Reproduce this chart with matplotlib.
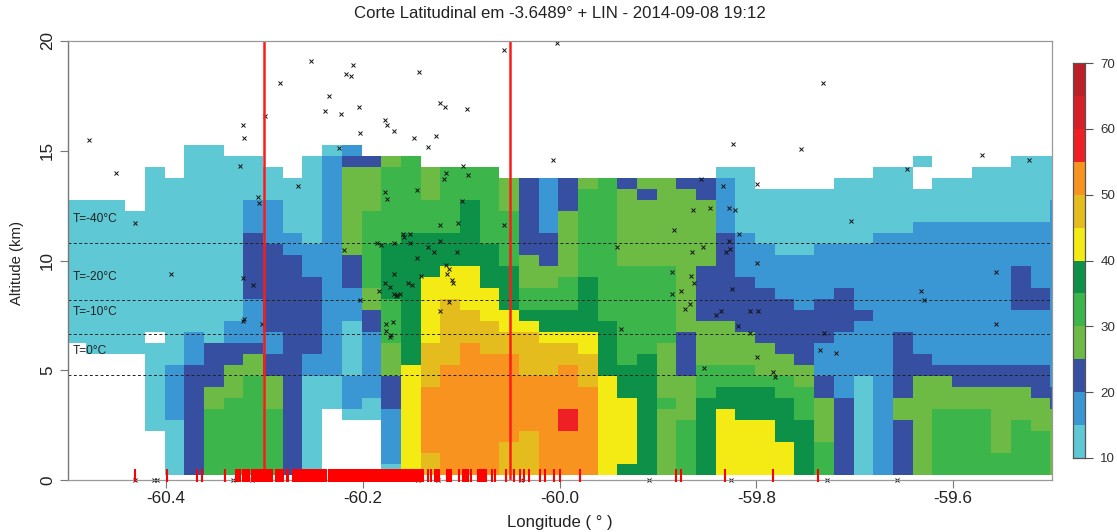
import numpy as np
import matplotlib
matplotlib.use('Agg')
import matplotlib.pyplot as plt
from matplotlib.colors import ListedColormap, BoundaryNorm

plt.rcParams['font.family'] = ['Liberation Sans', 'DejaVu Sans']

# reflectivity bins, one run list per longitude column, from 0.5 km upwards
# each pair is (lower edge of dBZ bin, number of 0.5 km levels), 0 = no echo
columns = [
    [(0,12),(10,13)],
    [(0,11),(10,14)],
    [(0,11),(10,14)],
    [(0,11),(10,13)],
    [(0,4),(10,8),(0,1),(10,15)],
    [(10,5),(15,5),(10,17)],
    [(20,10),(15,3),(10,17)],
    [(30,6),(25,2),(20,4),(10,18)],
    [(30,7),(25,3),(20,2),(15,2),(10,15)],
    [(30,9),(25,2),(20,1),(15,4),(20,6),(15,3),(10,4)],
    [(30,6),(25,3),(20,2),(15,2),(20,8),(15,4),(10,3)],
    [(20,20),(15,2),(10,5)],
    [(10,9),(15,2),(20,7),(15,3),(10,8)],
    [(0,6),(10,3),(15,20),(10,1)],
    [(0,5),(10,1),(15,3),(10,5),(15,3),(20,3),(25,8),(20,1),(15,1)],
    [(0,5),(10,2),(15,6),(20,2),(25,2),(30,7),(25,4),(20,1)],
    [(10,1),(15,5),(20,3),(25,3),(30,4),(35,5),(30,7),(25,1)],
    [(40,10),(35,12),(30,7)],
    [(45,2),(50,6),(45,4),(40,6),(35,4),(30,3),(25,3)],
    [(50,10),(45,6),(40,3),(35,3),(30,6)],
    [(50,12),(45,3),(40,4),(35,6),(30,3)],
    [(50,11),(45,3),(40,3),(35,4),(30,7)],
    [(45,3),(50,8),(45,2),(40,2),(35,4),(30,5),(25,3)],
    [(45,4),(50,5),(45,4),(40,1),(35,1),(30,2),(25,3),(20,7)],
    [(50,9),(45,3),(40,1),(35,2),(30,2),(25,2),(20,3),(15,5)],
    [(50,4),(55,2),(50,4),(45,2),(40,1),(35,2),(30,3),(25,6),(20,3)],
    [(50,8),(45,3),(40,2),(35,5),(30,8),(25,1)],
    [(40,9),(35,5),(30,13)],
    [(35,1),(40,6),(35,3),(30,9),(25,7),(20,1)],
    [(35,11),(30,8),(25,6),(20,1),(25,1)],
    [(25,6),(30,1),(25,5),(30,7),(25,8)],
    [(30,5),(25,4),(20,4),(25,13),(20,1)],
    [(35,7),(30,3),(25,4),(20,5),(25,6),(20,2)],
    [(40,6),(35,2),(30,2),(25,4),(20,8),(15,5),(10,1)],
    [(40,5),(35,3),(30,2),(25,3),(20,5),(15,4),(10,6)],
    [(40,5),(35,3),(30,1),(25,3),(20,5),(15,4),(10,5)],
    [(40,3),(35,4),(30,2),(25,2),(20,5),(15,4),(10,6)],
    [(35,5),(30,3),(25,2),(20,5),(15,5),(10,6)],
    [(30,3),(25,4),(20,2),(15,3),(20,4),(15,5),(10,5)],
    [(20,7),(15,6),(20,4),(15,4),(10,6)],
    [(10,9),(15,5),(20,1),(15,6),(10,6)],
    [(15,22),(10,6)],
    [(20,5),(25,2),(20,6),(15,9),(10,6)],
    [(25,9),(20,2),(15,12),(10,3),(0,2),(10,1)],
    [(30,6),(25,3),(20,1),(15,13),(10,4)],
    [(30,6),(25,2),(20,2),(15,13),(10,4)],
    [(30,6),(25,2),(20,2),(15,13),(10,5)],
    [(30,2),(25,6),(20,2),(15,13),(10,5)],
    [(30,5),(25,3),(20,2),(15,5),(20,4),(15,4),(10,6)],
    [(30,4),(25,3),(20,3),(15,5),(20,2),(15,6),(10,6)],
    [(25,6),(20,2),(15,17),(10,4)],
]

lon_first = -60.5013
lon_step = 0.02
alt_first = 0.25
alt_step = 0.5
n_levels = 30

palette = ['#5EC8D5', '#3A97D3', '#364FA1', '#6DBB45', '#3CB54A', '#0D9048',
           '#F5EB14', '#E5BC1E', '#F8931F', '#EF1F26', '#D52027', '#BC1F27']
bounds = [10, 15, 20, 25, 30, 35, 40, 45, 50, 55, 60, 65, 70]

# lightning sources above the section
flash_lon = [-60.478,-60.451,-60.432,-60.395,-60.325,-60.322,-60.321,-60.306,-60.305,-60.322,
             -60.312,-60.321,-60.322,-60.302,-60.299,-60.284,-60.266,-60.253,-60.238,-60.234,
             -60.222,-60.224,-60.217,-60.212,-60.210,-60.204,-60.203,-60.219,-60.203,-60.186,
             -60.181,-60.177,-60.175,-60.177,-60.175,-60.168,-60.168,-60.168,-60.177,-60.172,
             -60.184,-60.168,-60.165,-60.176,-60.169,-60.176,-60.172,-60.171,-60.159,-60.158,
             -60.152,-60.152,-60.145,-60.148,-60.143,-60.134,-60.126,-60.122,-60.116,-60.094,
             -60.098,-60.115,-60.093,-60.117,-60.099,-60.103,-60.122,-60.056,-60.122,-60.134,
             -60.128,-60.104,-60.145,-60.115,-60.112,-60.114,-60.141,-60.154,-60.150,-60.109,
             -60.108,-60.166,-60.162,-60.112,-60.122,-60.056,-60.003,-60.007,-59.938,-59.942,
             -59.884,-59.886,-59.886,-59.877,-59.866,-59.863,-59.865,-59.864,-59.856,-59.854,
             -59.847,-59.867,-59.873,-59.836,-59.841,-59.853,-59.834,-59.828,-59.822,-59.818,
             -59.828,-59.827,-59.831,-59.825,-59.824,-59.799,-59.799,-59.807,-59.798,-59.819,
             -59.807,-59.799,-59.783,-59.781,-59.755,-59.732,-59.731,-59.735,-59.719,-59.704,
             -59.647,-59.633,-59.630,-59.571,-59.556,-59.556,-59.523,
             -60.431,-60.412,-60.409,-60.332,-60.313,-60.144,-60.124,-60.039,-59.909,-59.826,
             -59.728,-59.657]
flash_alt = [15.49,13.99,11.70,9.40,14.31,16.19,15.60,12.89,12.61,9.19,
             8.90,7.34,7.24,7.09,16.60,18.09,13.39,19.09,16.80,17.50,
             16.69,15.11,18.50,18.39,18.89,16.99,15.80,10.49,8.20,10.80,
             10.69,13.11,12.80,16.39,16.19,15.90,10.80,9.40,8.99,8.79,
             8.60,8.49,8.43,7.09,7.20,6.80,6.52,6.61,11.19,11.08,
             11.19,10.80,13.20,15.60,18.59,15.19,15.69,17.19,16.99,16.89,
             14.31,13.99,13.90,13.70,12.70,11.70,11.60,11.60,10.89,10.60,
             10.40,10.40,10.10,9.80,9.60,9.40,9.29,8.99,8.90,9.10,
             8.99,8.40,8.49,8.10,7.70,19.59,19.90,14.59,6.89,10.60,
             11.39,9.49,8.49,8.60,9.29,8.99,10.40,12.30,13.70,10.60,
             12.41,8.00,7.79,7.70,7.50,5.10,13.39,12.39,12.30,11.19,
             10.89,10.51,10.40,8.69,15.29,13.50,9.89,7.70,7.70,7.00,
             6.70,5.60,4.91,4.71,15.09,18.09,6.70,5.91,5.80,11.80,
             14.18,8.60,8.20,14.79,9.49,7.09,14.59,
             0,0,0,0,0,0,0,0,0,0,
             0,0]

# ground strokes, rug along the bottom
stroke_lon = [-60.431,-60.399,-60.369,-60.363,-60.340,-60.329,-60.327,-60.325,-60.322,-60.320,
              -60.318,-60.316,-60.313,-60.312,-60.310,-60.308,-60.306,-60.304,-60.302,-60.300,
              -60.298,-60.296,-60.295,-60.293,-60.292,-60.288,-60.286,-60.284,-60.282,-60.281,
              -60.277,-60.276,-60.271,-60.269,-60.267,-60.265,-60.263,-60.261,-60.259,-60.257,
              -60.255,-60.253,-60.252,-60.250,-60.248,-60.246,-60.244,-60.242,-60.241,-60.239,
              -60.237,-60.234,-60.232,-60.231,-60.229,-60.228,-60.226,-60.225,-60.223,-60.222,
              -60.220,-60.219,-60.217,-60.216,-60.214,-60.213,-60.211,-60.210,-60.208,-60.207,
              -60.205,-60.204,-60.202,-60.201,-60.199,-60.198,-60.196,-60.195,-60.193,-60.192,
              -60.190,-60.189,-60.187,-60.186,-60.184,-60.183,-60.181,-60.180,-60.178,-60.177,
              -60.175,-60.174,-60.172,-60.171,-60.169,-60.168,-60.166,-60.165,-60.163,-60.161,
              -60.160,-60.158,-60.157,-60.155,-60.154,-60.152,-60.151,-60.149,-60.148,-60.146,
              -60.145,-60.143,-60.141,-60.139,-60.134,-60.131,-60.127,-60.125,-60.123,-60.114,
              -60.112,-60.110,-60.102,-60.098,-60.096,-60.094,-60.093,-60.090,-60.083,-60.081,
              -60.080,-60.078,-60.077,-60.075,-60.069,-60.066,-60.054,-60.046,-60.040,-60.036,
              -60.031,-60.020,-60.015,-60.006,-60.000,-59.979,-59.882,-59.877,-59.832,-59.783,
              -59.737]

section_lon = [-60.30, -60.05]

iso_alt = [4.8, 6.65, 8.2, 10.8]
iso_label = ['T=0°C', 'T=-10°C', 'T=-20°C', 'T=-40°C']
iso_label_alt = [5.88, 7.65, 9.25, 11.9]

xticks = [-60.4, -60.2, -60.0, -59.8, -59.6]
xticklabels = ['-60.4', '-60.2', '-60.0', '-59.8', '-59.6']
yticks = [0, 5, 10, 15, 20]
cbar_ticks = [10, 20, 30, 40, 50, 60, 70]

# build the grid, level by longitude
grid = np.full((n_levels, len(columns)), np.nan)
for j, runs in enumerate(columns):
    k = 0
    for low, count in runs:
        if low > 0:
            grid[k:k+count, j] = low + 2.5
        k += count

lon_edges = lon_first + lon_step*np.arange(len(columns)+1)
alt_edges = alt_first + alt_step*np.arange(n_levels+1)

W, H = 1117, 532
fig = plt.figure(figsize=(W/100, H/100), dpi=100)
ax = fig.add_axes([67.6/W, (H-480)/H, 984.0/W, 439.0/H])

cmap = ListedColormap(palette)
norm = BoundaryNorm(bounds, cmap.N)
ax.pcolormesh(lon_edges, alt_edges, grid, cmap=cmap, norm=norm, antialiased=False)

for a in iso_alt:
    ax.axhline(a, color='#222222', lw=0.7, ls=(0, (3, 2.5)))
for lab, a in zip(iso_label, iso_label_alt):
    ax.text(-60.4945, a, lab, fontsize=8.6, color='#222222', va='center', ha='left')

ax.plot(flash_lon, flash_alt, ls='none', marker='x', ms=2.2, mew=0.7, color='#111111', clip_on=False)
ax.vlines(section_lon, 0, 20, color='#FF1A1A', lw=1.8)
ax.vlines(stroke_lon, -0.07, 0.5, color='#FF0000', lw=1.5, clip_on=False, zorder=5)

ax.set_xlim(-60.5, -59.5)
ax.set_ylim(0, 20)
ax.set_xticks(xticks)
ax.set_xticklabels(xticklabels)
ax.set_yticks(yticks)
ax.tick_params(axis='x', length=6, width=0.8, color='#777777', labelsize=12.3, pad=2, labelcolor='#222222')
ax.tick_params(axis='y', length=6, width=0.8, color='#777777', labelsize=12.3, pad=3, labelcolor='#222222')
for t in ax.get_yticklabels():
    t.set_rotation(90)
    t.set_va('center')
for name in ['top', 'right', 'bottom']:
    ax.spines[name].set_color('#999999')
    ax.spines[name].set_linewidth(0.9)
ax.spines['left'].set_color('#777777')
ax.spines['left'].set_linewidth(1.0)

fig.text(560/W, 1-14/H, 'Corte Latitudinal em -3.6489° + LIN - 2014-09-08 19:12',
         ha='center', va='center', fontsize=12.1, color='#222222')
fig.text(560/W, 1-522/H, 'Longitude ( ° )', ha='center', va='center', fontsize=12.1, color='#222222')
fig.text(17/W, 1-263/H, 'Altitude (km)', ha='center', va='center', rotation=90, fontsize=10.7, color='#222222')

# colour bar
cax = fig.add_axes([1073/W, (H-458)/H, 12.0/W, 395.0/H])
cax.pcolormesh([0, 1], bounds, np.array(bounds[:-1], dtype=float).reshape(-1, 1)+2.5,
               cmap=cmap, norm=norm, antialiased=False)
cax.set_xticks([])
cax.set_yticks(cbar_ticks)
cax.yaxis.tick_right()
cax.tick_params(axis='y', length=6, width=0.8, color='#555555', labelsize=9.6, pad=5, labelcolor='#333333')
for s in cax.spines.values():
    s.set_color('#555555')
    s.set_linewidth(0.9)

fig.savefig('out.png', dpi=100)
